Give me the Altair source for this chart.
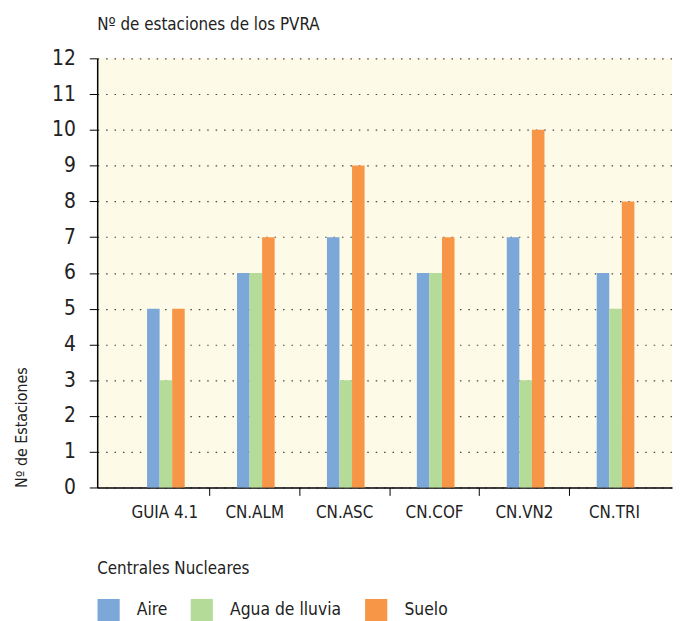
import altair as alt
import pandas as pd

categories = ["GUIA 4.1", "CN.ALM", "CN.ASC", "CN.COF", "CN.VN2", "CN.TRI"]
series = ["Aire", "Agua de lluvia", "Suelo"]
aire = [5, 6, 7, 6, 7, 6]
agua = [3, 6, 3, 6, 3, 5]
suelo = [5, 7, 9, 7, 10, 8]
colors = ["#7BA7D9", "#B5DB99", "#F79646"]

rows = []
for i, c in enumerate(categories):
    for s, vals in zip(series, [aire, agua, suelo]):
        rows.append({"central": c, "tipo": s, "valor": vals[i]})
df = pd.DataFrame(rows)

FONT = "DejaVu Sans Condensed, Liberation Sans Narrow, sans-serif"
W = 580
STEP = 90.75

chart = alt.Chart(df).mark_bar().encode(
    x=alt.X("central:N", sort=categories,
            scale=alt.Scale(paddingInner=0, paddingOuter=0.196, align=0.627),
            axis=alt.Axis(title=None, labelAngle=0,
                          tickOffset=-STEP / 2, labelOffset=STEP / 2,
                          tickOpacity={"condition": {"test": "datum.value == 'GUIA 4.1'", "value": 0}, "value": 1},
                          labelFontSize=17, labelPadding=9, tickSize=8,
                          domainColor="black", tickColor="black",
                          labelColor="#222")),
    xOffset=alt.XOffset("tipo:N", sort=series,
                        scale=alt.Scale(paddingInner=0, paddingOuter=0,
                                        range=[28, 66])),
    y=alt.Y("valor:Q", scale=alt.Scale(domain=[0, 12]),
            axis=alt.Axis(title="Nº de Estaciones", values=list(range(13)),
                          titleAnchor="start", titleFontSize=16,
                          titleFontWeight="normal", titleColor="#222",
                          titlePadding=22,
                          labelFontSize=21, labelPadding=14, tickSize=8,
                          domainColor="black", tickColor="black",
                          labelColor="#222",
                          grid=True, gridColor="#444", gridDash=[1.5, 7],
                          gridWidth=1.2)),
    color=alt.Color("tipo:N", sort=series,
                    scale=alt.Scale(domain=series, range=colors),
                    legend=alt.Legend(title="Centrales Nucleares", orient="none",
                                      legendX=0, legendY=507,
                                      direction="horizontal",
                                      titleFontSize=17, titleFontWeight="normal",
                                      titleColor="#222", titlePadding=21,
                                      labelFontSize=17.5, labelColor="#222",
                                      labelOffset=17,
                                      symbolType="square", symbolSize=500,
                                      symbolStrokeWidth=0,
                                      symbolOpacity=1,
                                      columnPadding=23)),
).properties(
    width=W, height=433,
    title=alt.Title("Nº de estaciones de los PVRA", anchor="start", frame="group",
                    fontSize=17, fontWeight="normal", color="#222",
                    offset=14, font=FONT),
).configure(
    font=FONT,
).configure_view(
    fill="#FEFAE8", stroke=None,
).configure_axis(
    labelFont=FONT, titleFont=FONT, domainWidth=1.5,
).configure_legend(
    labelFont=FONT, titleFont=FONT,
)

chart.save("out.html", embed_options={"renderer": "svg", "actions": False})
